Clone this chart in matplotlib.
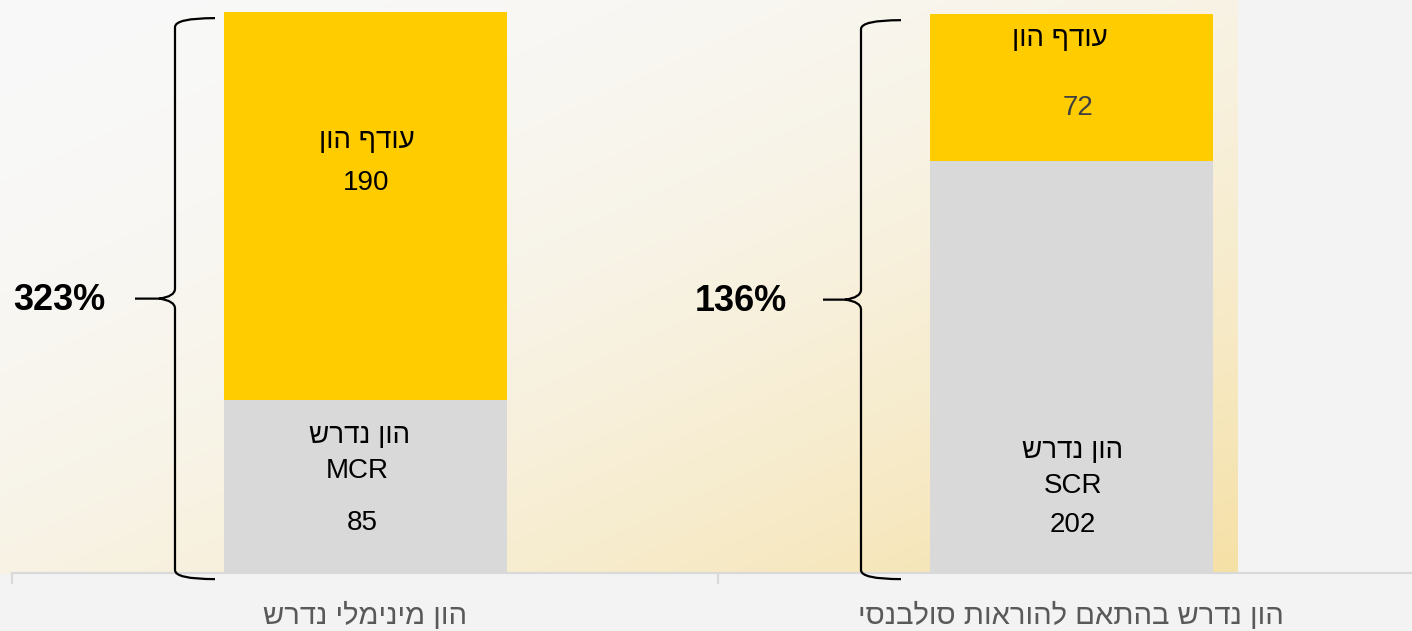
import numpy as np
import matplotlib
matplotlib.use("Agg")
from matplotlib import pyplot as plt
from matplotlib.path import Path
from matplotlib.patches import PathPatch

plt.rcParams["font.family"] = ["Liberation Sans", "DejaVu Sans"]

# data
categories = ["הון מינימלי נדרש", "הון נדרש בהתאם להוראות סולבנסי"]
required = [85, 202]
surplus = [190, 72]
required_names = ["MCR", "SCR"]
ratios = ["323%", "136%"]
surplus_label = "עודף הון"
required_label = "הון נדרש"

YELLOW = "#FFCC00"
GRAY = "#D9D9D9"

W, H = 1412, 631
PX_X = 706.0          # pixels per category
PX_Y = 2.04           # pixels per unit of value
BASE = 573            # baseline, pixels from top


def rtl(s):
    # matplotlib has no bidi support, reverse hebrew for visual order
    return s[::-1]


def brace(ax, xc, y0, y1, tip=40, hook=40):
    # curly brace opening to the right, tip on the left, in data coords
    dx = 1.0 / PX_X
    dy = 1.0 / PX_Y
    mid = (y0 + y1) / 2
    verts = [
        (xc + hook * dx, y1), (xc, y1), (xc, y1 - 9 * dy),
        (xc, mid + 10 * dy),
        (xc, mid + 2 * dy), (xc - 16 * dx, mid),
        (xc - tip * dx, mid),
        (xc - 16 * dx, mid), (xc, mid - 2 * dy), (xc, mid - 10 * dy),
        (xc, y0 + 9 * dy),
        (xc, y0), (xc + hook * dx, y0),
    ]
    codes = [
        Path.MOVETO, Path.CURVE3, Path.CURVE3,
        Path.LINETO,
        Path.CURVE3, Path.CURVE3,
        Path.LINETO,
        Path.MOVETO, Path.CURVE3, Path.CURVE3,
        Path.LINETO,
        Path.CURVE3, Path.CURVE3,
    ]
    ax.add_patch(PathPatch(Path(verts, codes), fill=False, lw=1.6,
                           ec="black", clip_on=False, zorder=5))


def main():
    fig = plt.figure(figsize=(W / 100, H / 100), dpi=100)
    fig.patch.set_facecolor("#f4f4f4")

    # background gradient
    bg = fig.add_axes([0, 0, 1, 1], zorder=-1)
    bg.set_axis_off()
    X, Y = np.meshgrid(np.arange(W), np.arange(H))
    u = np.clip(X / 1237.0, 0, 1)
    v = np.clip(Y / 573.0, 0, 1)
    a = ((u + v) / 2) ** 2
    base = np.array([0.975, 0.975, 0.975])
    warm = np.array([0.961, 0.878, 0.647])
    img = base[None, None, :] * (1 - a[..., None]) + warm[None, None, :] * a[..., None]
    outside = (X > 1237) | (Y > BASE)
    img[outside] = [0.955, 0.955, 0.955]
    bg.imshow(img, extent=(0, W, H, 0), aspect="auto", interpolation="bilinear")
    bg.set_xlim(0, W)
    bg.set_ylim(H, 0)

    ax = fig.add_axes([0, (H - BASE) / H, 1, BASE / H])
    ax.patch.set_alpha(0)
    x0 = -0.5 - 12 / PX_X
    ax.set_xlim(x0, x0 + W / PX_X)
    ax.set_ylim(0, BASE / PX_Y)
    for s in ax.spines.values():
        s.set_visible(False)
    ax.set_yticks([])

    x = np.arange(len(categories))
    ax.bar(x, required, width=283 / PX_X, color=GRAY, zorder=2)
    ax.bar(x, surplus, bottom=required, width=283 / PX_X, color=YELLOW, zorder=2)

    # baseline and category ticks
    ax.plot([-0.5, x0 + W / PX_X], [0, 0], color="#d9d9d9", lw=1.6,
            clip_on=False, zorder=1)
    ax.set_xticks(x)
    ax.set_xticklabels([rtl(c) for c in categories], fontsize=21,
                       color="#595959")
    ax.tick_params(axis="x", length=0, pad=21)
    ax.set_xticks([-0.5, 0.5], minor=True)
    ax.tick_params(axis="x", which="minor", length=8, width=1.6,
                   color="#d9d9d9")

    px = 1.0 / PX_X
    # label layout: (dx in px, y in value units)
    lay_surplus = [((2, 212), (1, 191)), ((-11, 262), (7, 228))]
    lay_required = [((-5, 67), (-8, 50), (-3, 24.5)),
                    ((2, 60), (2, 42.5), (2, 23.5))]
    num_colors = ["black", "#404040"]
    fs = 20
    for i in range(len(categories)):
        (lx, ly), (nx, ny) = lay_surplus[i]
        ax.text(i + lx * px, ly, rtl(surplus_label), ha="center",
                va="center", fontsize=fs, zorder=3)
        ax.text(i + nx * px, ny, str(surplus[i]), ha="center", va="center",
                fontsize=fs, color=num_colors[i], zorder=3)
        (ax_, ay), (mx, my), (rx, ry) = lay_required[i]
        ax.text(i + ax_ * px, ay, rtl(required_label), ha="center",
                va="center", fontsize=fs, zorder=3)
        ax.text(i + mx * px, my, required_names[i], ha="center",
                va="center", fontsize=fs, zorder=3)
        ax.text(i + rx * px, ry, str(required[i]), ha="center",
                va="center", fontsize=fs, zorder=3)

    # braces with coverage ratio
    brace_dx = [-190, -210]
    tip = [40, 38]
    gap = [30, 36]
    for i in range(len(categories)):
        total = required[i] + surplus[i]
        bx = i + brace_dx[i] * px
        brace(ax, bx, -3, total - 3, tip=tip[i])
        ax.text(bx - (tip[i] + gap[i]) * px, total / 2 - 4, ratios[i],
                ha="right", va="center", fontsize=26, fontweight="bold",
                zorder=3)

    fig.savefig("out.png", dpi=100, facecolor=fig.get_facecolor())


if __name__ == "__main__":
    main()
